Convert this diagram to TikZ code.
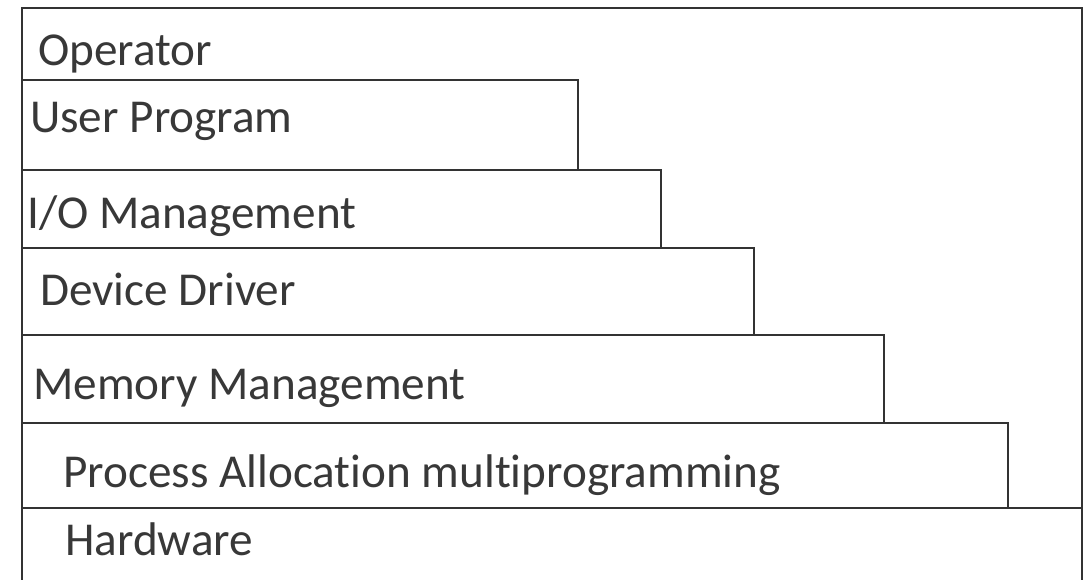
\documentclass[tikz,border=0pt]{standalone}
\usepackage{fontspec}
\setmainfont{Carlito}[Ligatures=NoCommon]
\definecolor{linec}{HTML}{333333}
\definecolor{textc}{HTML}{383838}
\begin{document}
\begin{tikzpicture}[x=1pt,y=-1pt,
  layer/.style={draw=linec, line width=2.5pt, line join=miter},
  lbl/.style={anchor=base west, inner sep=0pt, text=textc, font=\fontsize{47.2}{52}\selectfont}]
\useasboundingbox (0,0) rectangle (1084,579);
\fill[white] (0,0) rectangle (1084,579);
% outer frame
\draw[layer] (22,585) -- (22,8) -- (1082,8) -- (1082,585);
% steps
\draw[layer] (22,80) -- (578,80) -- (578,170);
\draw[layer] (22,170) -- (661,170) -- (661,248);
\draw[layer] (22,248) -- (754,248) -- (754,335);
\draw[layer] (22,335) -- (884,335) -- (884,423);
\draw[layer] (22,423) -- (1008,423) -- (1008,508);
\draw[layer] (22,508) -- (1082,508);
% labels
\node[lbl] (op)  at (38,65)  {Operator};
\node[lbl] (up)  at (30,132) {User Program};
\node[lbl] (io)  at (27,228) {I/O Management};
\node[lbl] (dd)  at (40,305) {Device Driver};
\node[lbl] (mm)  at (33,399) {Memory Management};
\node[lbl] (pa)  at (63,487) {Process Allocation multiprogramming};
\node[lbl] (hw)  at (65,555) {Hardware};
\end{tikzpicture}
\end{document}
